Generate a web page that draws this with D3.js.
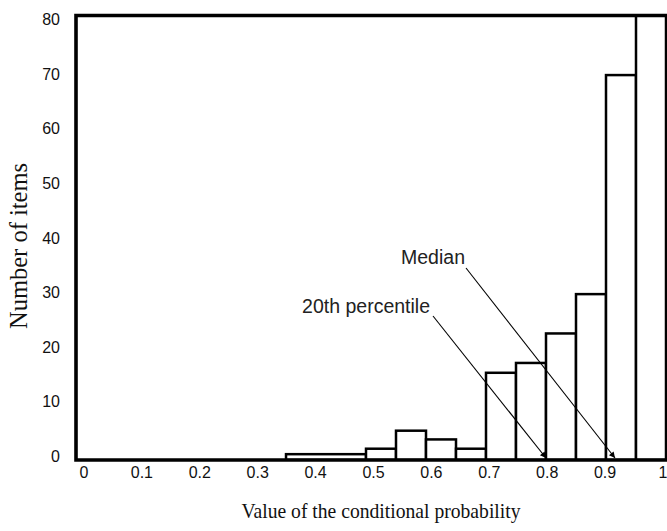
<!DOCTYPE html>
<html>
<head>
<meta charset="utf-8">
<script src="https://cdn.jsdelivr.net/npm/d3@7"></script>
<style>
  body { margin: 0; background: #fff; }
  .tick-label { font-family: "Liberation Sans", Arial, sans-serif; font-size: 16px; fill: #111; }
  .note { font-family: "Liberation Sans", Arial, sans-serif; font-size: 19.5px; fill: #222; }
  .title { font-family: "Liberation Serif", "Times New Roman", serif; font-size: 22px; fill: #111; }
</style>
</head>
<body>
<script>
// histogram bins (left edge, right edge) and counts
const binStart = [0.3667, 0.50, 0.55, 0.60, 0.65, 0.70, 0.75, 0.80, 0.85, 0.90, 0.95];
const binEnd   = [0.50,   0.55, 0.60, 0.65, 0.70, 0.75, 0.80, 0.85, 0.90, 0.95, 1.00];
const counts   = [0.7,    1.7,  5.0,  3.4,  1.7,  15.6, 17.4, 22.8, 30.0, 70.1, 84];

const xTicks = [0, 0.1, 0.2, 0.3, 0.4, 0.5, 0.6, 0.7, 0.8, 0.9, 1];
const xTickLabels = ["0", "0.1", "0.2", "0.3", "0.4", "0.5", "0.6", "0.7", "0.8", "0.9", "1"];
const yTicks = [0, 10, 20, 30, 40, 50, 60, 70, 80];

const markers = ["20th percentile", "Median"];
const markerValues = [0.8, 0.915];

// =============================================================================

const width = 667,
      height = 531;

// bars and tick labels do not share quite the same spacing in the original
const x = d3.scaleLinear().domain([0, 1]).range([66, 666]);
const xLab = d3.scaleLinear().domain([0, 1]).range([84, 663]);
const y = d3.scaleLinear().domain([0, 80]).range([458, 21]);

const frame = { left: 76, top: 15.5, right: 669, bottom: 460 };

const svg = d3.select("body").append("svg")
    .attr("width", width)
    .attr("height", height);

const defs = svg.append("defs");

defs.append("clipPath")
    .attr("id", "plot-clip")
  .append("rect")
    .attr("x", frame.left)
    .attr("y", frame.top)
    .attr("width", frame.right - frame.left)
    .attr("height", frame.bottom - frame.top);

defs.append("marker")
    .attr("id", "arrow")
    .attr("viewBox", "0 0 10 10")
    .attr("refX", 10)
    .attr("refY", 5)
    .attr("markerWidth", 12)
    .attr("markerHeight", 6)
    .attr("markerUnits", "userSpaceOnUse")
    .attr("orient", "auto")
  .append("path")
    .attr("d", "M0,0L10,5L0,10z")
    .attr("fill", "#000");

const bins = counts.map((c, i) => ({ x0: binStart[i], x1: binEnd[i], n: c }));

svg.append("g")
    .attr("clip-path", "url(#plot-clip)")
  .selectAll("rect")
  .data(bins)
  .join("rect")
    .attr("x", d => x(d.x0))
    .attr("y", d => y(d.n))
    .attr("width", d => x(d.x1) - x(d.x0))
    .attr("height", d => y(0) - y(d.n) + 2)
    .attr("fill", "#fff")
    .attr("stroke", "#000")
    .attr("stroke-width", 2.5);

// frame
svg.append("path")
    .attr("d", `M${frame.right},${frame.top}H${frame.left}V${frame.bottom}H${frame.right}`)
    .attr("fill", "none")
    .attr("stroke", "#000")
    .attr("stroke-width", 3.6);

// x tick labels
svg.append("g")
  .selectAll("text")
  .data(xTicks)
  .join("text")
    .attr("class", "tick-label")
    .attr("x", d => xLab(d))
    .attr("y", 478)
    .attr("text-anchor", "middle")
    .text((d, i) => xTickLabels[i]);

// y tick labels
svg.append("g")
  .selectAll("text")
  .data(yTicks)
  .join("text")
    .attr("class", "tick-label")
    .attr("x", 60)
    .attr("y", d => y(d) + 4)
    .attr("text-anchor", "end")
    .text(d => d);

// percentile annotations
const notePos = [[430, 313], [465, 264]];
const noteStart = [[433, 316], [466, 268]];

markers.forEach((m, i) => {
  svg.append("text")
      .attr("class", "note")
      .attr("x", notePos[i][0])
      .attr("y", notePos[i][1])
      .attr("text-anchor", "end")
      .text(m);

  svg.append("line")
      .attr("x1", noteStart[i][0])
      .attr("y1", noteStart[i][1])
      .attr("x2", x(markerValues[i]))
      .attr("y2", y(0))
      .attr("stroke", "#000")
      .attr("stroke-width", 1.1)
      .attr("marker-end", "url(#arrow)");
});

// axis titles
svg.append("text")
    .attr("class", "title")
    .attr("x", 381)
    .attr("y", 518)
    .attr("text-anchor", "middle")
    .attr("textLength", 279)
    .attr("lengthAdjust", "spacingAndGlyphs")
    .text("Value of the conditional probability");

svg.append("text")
    .attr("class", "title")
    .attr("transform", "translate(27,246) rotate(-90)")
    .attr("text-anchor", "middle")
    .style("font-size", "24.5px")
    .text("Number of items");
</script>
</body>
</html>
